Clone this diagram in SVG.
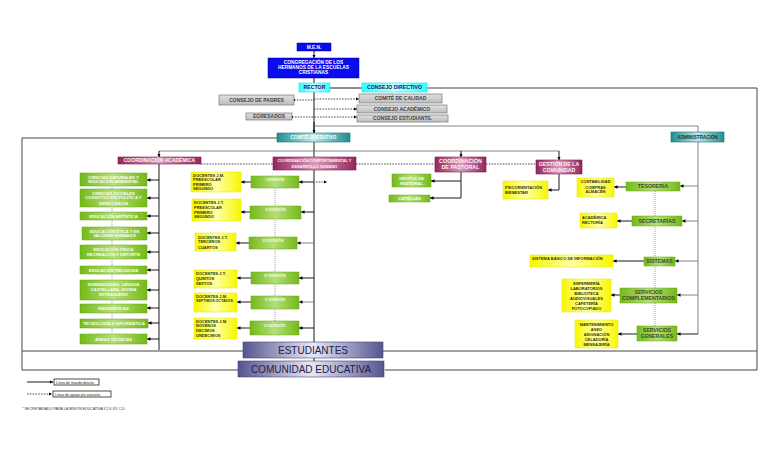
<svg xmlns="http://www.w3.org/2000/svg" width="768" height="466" viewBox="0 0 768 466">
<defs>
<linearGradient id="gG" x1="0" x2="1" y1="0" y2="0"><stop offset="0" stop-color="#74ba18"/><stop offset="0.5" stop-color="#b5df78"/><stop offset="1" stop-color="#74ba18"/></linearGradient>
<linearGradient id="gY" x1="0" x2="1" y1="0" y2="0"><stop offset="0" stop-color="#f7f700"/><stop offset="0.5" stop-color="#ffffa8"/><stop offset="1" stop-color="#f7f700"/></linearGradient>
<linearGradient id="gM" x1="0" x2="1" y1="0" y2="0"><stop offset="0" stop-color="#95255c"/><stop offset="0.5" stop-color="#d99bbb"/><stop offset="1" stop-color="#95255c"/></linearGradient>
<linearGradient id="gT" x1="0" x2="1" y1="0" y2="0"><stop offset="0" stop-color="#1f8e8e"/><stop offset="0.5" stop-color="#c3e6e6"/><stop offset="1" stop-color="#1f8e8e"/></linearGradient>
<linearGradient id="gC" x1="0" x2="1" y1="0" y2="0"><stop offset="0" stop-color="#33ffff"/><stop offset="0.5" stop-color="#ccffff"/><stop offset="1" stop-color="#33ffff"/></linearGradient>
<linearGradient id="gR" x1="0" x2="0" y1="0" y2="1"><stop offset="0" stop-color="#e0e0e0"/><stop offset="1" stop-color="#bdbdbd"/></linearGradient>
<linearGradient id="gP" x1="0" x2="1" y1="0" y2="0"><stop offset="0" stop-color="#55558f"/><stop offset="0.5" stop-color="#e8e8f4"/><stop offset="1" stop-color="#55558f"/></linearGradient>
<marker id="ah" viewBox="0 0 6 6" refX="6" refY="3" markerWidth="3.5" markerHeight="3.5" orient="auto" markerUnits="userSpaceOnUse"><path d="M0,0L6,3L0,6z" fill="#000"/></marker>
<marker id="sq" viewBox="0 0 4 4" refX="2" refY="2" markerWidth="2.5" markerHeight="2.5" markerUnits="userSpaceOnUse"><rect width="4" height="4" fill="#000"/></marker>
<style>
text{font-family:"Liberation Sans",Arial,sans-serif;font-weight:bold;text-anchor:middle}
.g{fill:url(#gG);stroke:#6aa31a;stroke-width:0.5}
.y{fill:url(#gY);stroke:#e6e600;stroke-width:0.5}
.m{fill:url(#gM);stroke:#7e1d4c;stroke-width:0.6}
.t{fill:url(#gT);stroke:#167373;stroke-width:0.6}
.c{fill:url(#gC);stroke:#22dddd;stroke-width:0.6}
.b{fill:#0b0bf0;stroke:#0000a0;stroke-width:0.5}
.r{fill:url(#gR);stroke:#7a7a7a;stroke-width:0.7}
.p{fill:url(#gP);stroke:#44447a;stroke-width:0.6}
.tg{font-size:4.2px;fill:#f8fff0}
.tgd{font-size:5.2px;fill:#3a4a2a}
.tdv{font-size:3.8px;fill:#f0ffe0}
.ty{font-size:4px;fill:#333300;text-anchor:start}
.tyc{font-size:4px;fill:#333300}
.tm{font-size:5px;fill:#fff0f6}
.tt{font-size:4.6px;fill:#f4ffff}
.tc{font-size:5.2px;fill:#101060}
.tb{font-size:4.8px;fill:#ffffff}
.tr{font-size:5px;fill:#444}
.tp{font-size:10px;fill:#20204a;font-weight:normal}
.sl{fill:none;stroke:#000;stroke-width:0.9}
.fr{fill:none;stroke:#444;stroke-width:1}
.gl{fill:none;stroke:#777;stroke-width:0.9}
.dl{fill:none;stroke:#222;stroke-width:0.8;stroke-dasharray:1.6 1.2}
.dv{fill:none;stroke:#777;stroke-width:0.7;stroke-dasharray:1 1}
</style>
</defs>
<rect width="768" height="466" fill="#ffffff"/>

<g id="connectors">
<path class="fr" d="M427,88H757V370H385M238,370H22V138H277"/>
<path class="fr" d="M22,351H757"/>
<path class="sl" d="M314,51V58" marker-end="url(#ah)"/>
<path class="sl" d="M314,78V83"/>
<path class="sl" d="M330,88H362"/>
<path class="sl" d="M314,92V342"/>
<path class="sl" d="M314,122V133" marker-end="url(#ah)"/>
<path class="sl" d="M314,358V361"/>
<path class="dl" d="M294,100H314" marker-start="url(#sq)"/>
<path class="dl" d="M314,99H359" marker-end="url(#ah)"/>
<path class="dl" d="M314,109H357" marker-end="url(#ah)"/>
<path class="dl" d="M292,117H357" marker-start="url(#sq)" marker-end="url(#ah)"/>
<path class="gl" d="M314,126H698V334"/>
<path class="sl" d="M698,334H677" marker-end="url(#ah)"/>
<path class="gl" d="M698,186H680" marker-end="url(#ah)"/>
<path class="gl" d="M698,221H682" marker-end="url(#ah)"/>
<path class="gl" d="M698,261H675" marker-end="url(#ah)"/>
<path class="gl" d="M698,295H677" marker-end="url(#ah)"/>
<path class="sl" d="M626,187H614" marker-end="url(#ah)"/>
<path class="sl" d="M632,221H617" marker-end="url(#ah)"/>
<path class="sl" d="M644,261H613" marker-end="url(#ah)"/>
<path class="sl" d="M620,295H611" marker-end="url(#ah)"/>
<path class="sl" d="M637,334H618" marker-end="url(#ah)"/>
<path class="dv" d="M655,191V326"/>
<path class="gl" d="M159,151H559"/>
<path class="sl" d="M159,151V157" marker-end="url(#ah)"/>
<path class="sl" d="M461,151V157" marker-end="url(#ah)"/>
<path class="sl" d="M559,151V160" marker-end="url(#ah)"/>
<path class="dl" d="M201,164H273M356,164H435M486,164H536"/>
<path class="sl" d="M159,164V350"/>
<path class="dv" d="M112,186V334"/>
<path class="sl" d="M159,180H147" marker-end="url(#ah)"/>
<path class="sl" d="M159,198H147" marker-end="url(#ah)"/>
<path class="sl" d="M159,216H147" marker-end="url(#ah)"/>
<path class="sl" d="M159,233H147" marker-end="url(#ah)"/>
<path class="sl" d="M159,252H147" marker-end="url(#ah)"/>
<path class="sl" d="M159,270H147" marker-end="url(#ah)"/>
<path class="sl" d="M159,290H147" marker-end="url(#ah)"/>
<path class="sl" d="M159,308H147" marker-end="url(#ah)"/>
<path class="sl" d="M159,323H148" marker-end="url(#ah)"/>
<path class="sl" d="M159,339H147" marker-end="url(#ah)"/>
<path class="sl" d="M461,172V198"/>
<path class="sl" d="M461,181H431" marker-end="url(#ah)"/>
<path class="sl" d="M461,198H430" marker-end="url(#ah)"/>
<path class="sl" d="M559,174V190H548" marker-end="url(#ah)"/>
<path class="dv" d="M275,188V321"/>
<path class="sl" d="M314,182H299" marker-end="url(#ah)"/>
<path class="dl" d="M316,182H327" marker-end="url(#ah)"/>
<path class="sl" d="M314,212H301" marker-end="url(#ah)"/>
<path class="gl" d="M314,243H297" marker-end="url(#ah)"/>
<path class="sl" d="M314,278H299" marker-end="url(#ah)"/>
<path class="gl" d="M314,302H299" marker-end="url(#ah)"/>
<path class="sl" d="M314,328H299" marker-end="url(#ah)"/>
<path class="sl" d="M251,182H241" marker-end="url(#ah)"/>
<path class="sl" d="M250,212H241" marker-end="url(#ah)"/>
<path class="sl" d="M249,243H236" marker-end="url(#ah)"/>
<path class="sl" d="M251,278H237" marker-end="url(#ah)"/>
<path class="sl" d="M251,302H237" marker-end="url(#ah)"/>
<path class="sl" d="M250,328H237" marker-end="url(#ah)"/>
</g>

<g id="men"><rect class="b" x="297" y="43" width="34" height="8"/><text class="tb" x="314" y="48.8">M.E.N.</text></g>
<g id="congregacion"><rect class="b" x="268" y="58" width="91" height="20"/><text class="tb" x="313.5" y="63.5">CONGREGACIÓN DE LOS</text><text class="tb" x="313.5" y="68.9">HERMANOS DE LA ESCUELAS</text><text class="tb" x="313.5" y="74.3">CRISTIANAS</text></g>
<g id="rector"><rect class="c" x="299" y="83" width="31" height="9"/><text class="tc" x="314.5" y="89.3">RECTOR</text></g>
<g id="consejo-directivo"><rect class="c" x="362" y="83" width="65" height="9"/><text class="tc" x="394.5" y="89.3">CONSEJO DIRECTIVO</text></g>
<g id="consejo-padres"><rect class="r" x="219" y="95" width="75" height="10"/><text class="tr" x="256.5" y="101.8">CONSEJO DE PADRES</text></g>
<g id="egresados"><rect class="r" x="246" y="113" width="46" height="7"/><text class="tr" x="269" y="118.2">EGRESADOS</text></g>
<g id="comite-calidad"><rect class="r" x="359" y="94" width="83" height="9"/><text class="tr" x="400.5" y="100.3">COMITÉ DE  CALIDAD</text></g>
<g id="consejo-academico"><rect class="r" x="357" y="105" width="90" height="8"/><text class="tr" x="402" y="110.8">CONSEJO ACADÉMICO</text></g>
<g id="consejo-estudiantil"><rect class="r" x="357" y="115" width="91" height="7"/><text class="tr" x="402.5" y="120.3">CONSEJO ESTUDIANTIL</text></g>
<g id="comite-operativo"><rect class="t" x="277" y="133" width="73" height="9"/><text class="tt" x="313.5" y="139.2">COMITÉ OPERATIVO</text></g>
<g id="administracion"><rect class="t" x="671" y="132" width="53" height="10"/><text class="tt" x="697.5" y="138.6" style="fill:#103838">ADMINISTRACIÓN</text></g>

<g id="coord-academica"><rect class="m" x="118" y="157" width="83" height="7"/><text class="tm" x="159.5" y="162.4">COORDINACIÓN ACADÉMICA</text></g>
<g id="coord-convivencia"><rect class="m" x="273" y="157" width="83" height="13"/><text class="tm" x="314.5" y="162.3" style="font-size:3.9px">COORDINACIÓN COMPORTAMENTAL Y</text><text class="tm" x="314.5" y="167.6" style="font-size:3.9px">DESARROLLO HUMANO</text></g>
<g id="coord-pastoral"><rect class="m" x="435" y="157" width="51" height="15"/><text class="tm" x="460.5" y="163.3" style="font-size:5.4px">COORDINACIÓN</text><text class="tm" x="460.5" y="169.3" style="font-size:5.4px">DE PASTORAL</text></g>
<g id="gestion-comunidad"><rect class="m" x="536" y="160" width="46" height="14"/><text class="tm" x="559" y="166" style="font-size:5.2px">GESTIÓN DE LA</text><text class="tm" x="559" y="171.8" style="font-size:5.2px">COMUNIDAD</text></g>

<g id="area-naturales"><rect class="g" x="80" y="173" width="67" height="13"/><text class="tg" x="113.5" y="178.8">CIENCIAS NATURALES Y</text><text class="tg" x="113.5" y="183.4">EDUCACIÓN AMBIENTAL</text></g>
<g id="area-sociales"><rect class="g" x="80" y="189" width="67" height="18"/><text class="tg" x="113.5" y="194.5">CIENCIAS SOCIALES</text><text class="tg" x="113.5" y="199.3">CONSTITUCIÓN POLÍTICA Y</text><text class="tg" x="113.5" y="204.5">DEMOCRACIA</text></g>
<g id="area-artistica"><rect class="g" x="80" y="212" width="67" height="8"/><text class="tg" x="113.5" y="217.5">EDUCACIÓN ARTÍSTICA</text></g>
<g id="area-etica"><rect class="g" x="82" y="227" width="65" height="13"/><text class="tg" x="114.5" y="232.6">EDUCACIÓN ÉTICA Y EN</text><text class="tg" x="114.5" y="237.4">VALORES HUMANOS</text></g>
<g id="area-fisica"><rect class="g" x="80" y="245" width="67" height="14"/><text class="tg" x="113.5" y="251">EDUCACIÓN FÍSICA</text><text class="tg" x="113.5" y="255.8">RECREACIÓN Y DEPORTE</text></g>
<g id="area-religiosa"><rect class="g" x="80" y="266" width="67" height="8"/><text class="tg" x="113.5" y="271.5">EDUCACIÓN RELIGIOSA</text></g>
<g id="area-humanidades"><rect class="g" x="80" y="280" width="67" height="20"/><text class="tg" x="113.5" y="286">HUMANIDADES: LENGUA</text><text class="tg" x="113.5" y="291">CASTELLANA, IDIOMA</text><text class="tg" x="113.5" y="296">EXTRANJERO</text></g>
<g id="area-matematicas"><rect class="g" x="80" y="304" width="67" height="9"/><text class="tg" x="113.5" y="310">MATEMÁTICAS</text></g>
<g id="area-tecnologia"><rect class="g" x="80" y="319" width="68" height="9"/><text class="tg" x="114" y="325">TECNOLOGÍA E INFORMÁTICA</text></g>
<g id="area-tecnicas"><rect class="g" x="80" y="334" width="67" height="10"/><text class="tg" x="113.5" y="340.5">ÁREAS TÉCNICAS</text></g>

<g id="div-1"><rect class="g" x="251" y="176" width="48" height="12"/><text class="tdv" x="275" y="181">I DIVISIÓN</text></g>
<g id="div-2"><rect class="g" x="250" y="206" width="51" height="13"/><text class="tdv" x="275.5" y="211">II DIVISIÓN</text></g>
<g id="div-3"><rect class="g" x="249" y="237" width="48" height="12"/><text class="tdv" x="273" y="242">III DIVISIÓN</text></g>
<g id="div-4"><rect class="g" x="251" y="272" width="48" height="12"/><text class="tdv" x="275" y="277">IV DIVISIÓN</text></g>
<g id="div-5"><rect class="g" x="251" y="296" width="48" height="13"/><text class="tdv" x="275" y="301">V DIVISIÓN</text></g>
<g id="div-6"><rect class="g" x="250" y="321" width="49" height="14"/><text class="tdv" x="274.5" y="326.5">VI DIVISIÓN</text></g>

<g id="doc-1"><rect class="y" x="191" y="172" width="50" height="20"/><text class="ty" x="193" y="176.5">DOCENTES J.M.</text><text class="ty" x="193" y="181">PREESCOLAR</text><text class="ty" x="193" y="185.5">PRIMERO</text><text class="ty" x="193" y="190">SEGUNDO</text></g>
<g id="doc-2"><rect class="y" x="192" y="199" width="49" height="22"/><text class="ty" x="194" y="204">DOCENTES J.T.</text><text class="ty" x="194" y="208.8">PREESCOLAR</text><text class="ty" x="194" y="213.6">PRIMERO</text><text class="ty" x="194" y="218.4">SEGUNDO</text></g>
<g id="doc-3"><rect class="y" x="195" y="233" width="41" height="18"/><text class="ty" x="198" y="238.5">DOCENTES J.T.</text><text class="ty" x="198" y="243">TERCEROS</text><text class="ty" x="198" y="248.5">CUARTOS</text></g>
<g id="doc-4"><rect class="y" x="194" y="270" width="43" height="18"/><text class="ty" x="196" y="275">DOCENTES J.T.</text><text class="ty" x="196" y="280">QUINTOS</text><text class="ty" x="196" y="284.5">SEXTOS</text></g>
<g id="doc-5"><rect class="y" x="194" y="293" width="43" height="19"/><text class="ty" x="196" y="298">DOCENTES J.M.</text><text class="ty" x="196" y="302" style="font-size:3.6px">SEPTIMOS OCTAVOS</text></g>
<g id="doc-6"><rect class="y" x="194" y="318" width="43" height="21"/><text class="ty" x="196" y="322.5">DOCENTES J.M.</text><text class="ty" x="196" y="327">NOVENOS</text><text class="ty" x="196" y="331.5">DECIMOS</text><text class="ty" x="196" y="336.5">UNDECIMOS</text></g>

<g id="grupos-pastoral"><rect class="g" x="392" y="174" width="39" height="13"/><text class="tg" x="411.5" y="179.6">GRUPOS DE</text><text class="tg" x="411.5" y="184.6">PASTORAL</text></g>
<g id="capellan"><rect class="g" x="389" y="195" width="41" height="7"/><text class="tg" x="409.5" y="200">CAPELLÁN</text></g>
<g id="psicorientacion"><rect class="y" x="503" y="181" width="45" height="18"/><text class="ty" x="505" y="189">PSICORIENTACIÓN</text><text class="ty" x="505" y="193.5">BIENESTAR</text></g>

<g id="tesoreria"><rect class="g" x="626" y="182" width="54" height="9"/><text class="tgd" x="653" y="188.3">TESORERÍA</text></g>
<g id="secretarias"><rect class="g" x="632" y="216" width="50" height="10"/><text class="tgd" x="657" y="222.8">SECRETARÍAS</text></g>
<g id="sistemas"><rect class="g" x="644" y="257" width="31" height="9"/><text class="tgd" x="659.5" y="263.3">SISTEMAS</text></g>
<g id="serv-complementarios"><rect class="g" x="620" y="288" width="57" height="15"/><text class="tgd" x="648.5" y="294.3">SERVICIOS</text><text class="tgd" x="648.5" y="300.3">COMPLEMENTARIOS</text></g>
<g id="serv-generales"><rect class="g" x="637" y="326" width="40" height="15"/><text class="tgd" x="657" y="332.3">SERVICIOS</text><text class="tgd" x="657" y="338.3">GENERALES</text></g>

<g id="contabilidad"><rect class="y" x="577" y="178" width="37" height="19"/><text class="tyc" x="595.5" y="183">CONTABILIDAD</text><text class="tyc" x="595.5" y="188.5">COMPRAS</text><text class="tyc" x="595.5" y="193">ALMACÉN</text></g>
<g id="academica-rectoria"><rect class="y" x="580" y="213" width="37" height="15"/><text class="ty" x="582" y="219">ACADÉMICA</text><text class="ty" x="582" y="223.5">RECTORÍA</text></g>
<g id="sistema-basico"><rect class="y" x="530" y="255" width="83" height="12"/><text class="ty" x="532" y="260">SISTEMA BÁSICO DE INFORMACIÓN</text></g>
<g id="enfermeria"><rect class="y" x="562" y="279" width="49" height="33"/><text class="tyc" x="586.5" y="284.5">ENFERMERÍA</text><text class="tyc" x="586.5" y="289.5">LABORATORIOS</text><text class="tyc" x="586.5" y="294.5">BIBLIOTECA</text><text class="tyc" x="586.5" y="299.5">AUDIOVISUALES</text><text class="tyc" x="586.5" y="304.5">CAFETERÍA</text><text class="tyc" x="586.5" y="309.5">FOTOCOPIADO</text></g>
<g id="mantenimiento"><rect class="y" x="575" y="320" width="43" height="28"/><text class="tyc" x="596.5" y="325.5">MANTENIMIENTO</text><text class="tyc" x="596.5" y="330.5">ASEO</text><text class="tyc" x="596.5" y="335.5">ASIGNACIÓN</text><text class="tyc" x="596.5" y="340.5">CELADURÍA</text><text class="tyc" x="596.5" y="345.5">MENSAJERÍA</text></g>

<g id="estudiantes"><rect class="p" x="243" y="342" width="140" height="16"/><text class="tp" x="313" y="353.6">ESTUDIANTES</text></g>
<g id="comunidad"><rect class="p" x="238" y="361" width="146" height="16"/><text class="tp" x="311" y="372.6">COMUNIDAD EDUCATIVA</text></g>

<g id="legend">
<path class="sl" d="M27,382H53" marker-end="url(#ah)"/>
<rect x="54" y="379" width="45" height="6" fill="#fff" stroke="#000" stroke-width="0.7"/>
<text x="56" y="383.6" style="font-size:3.6px;font-weight:normal;text-anchor:start;fill:#222">Línea de mando directo</text>
<path class="dl" d="M27,394H52" marker-end="url(#ah)"/>
<rect x="53" y="391" width="58" height="6" fill="#fff" stroke="#000" stroke-width="0.7"/>
<text x="55" y="395.6" style="font-size:3.6px;font-weight:normal;text-anchor:start;fill:#222">Línea de apoyo y/o asesoría</text>
<text x="22" y="410" style="font-size:3.6px;font-weight:normal;text-anchor:start;fill:#333">* SECRETARIADO PARA LA MISIÓN EDUCATIVA 3.2.6 XX C.D.</text>
</g>
</svg>
